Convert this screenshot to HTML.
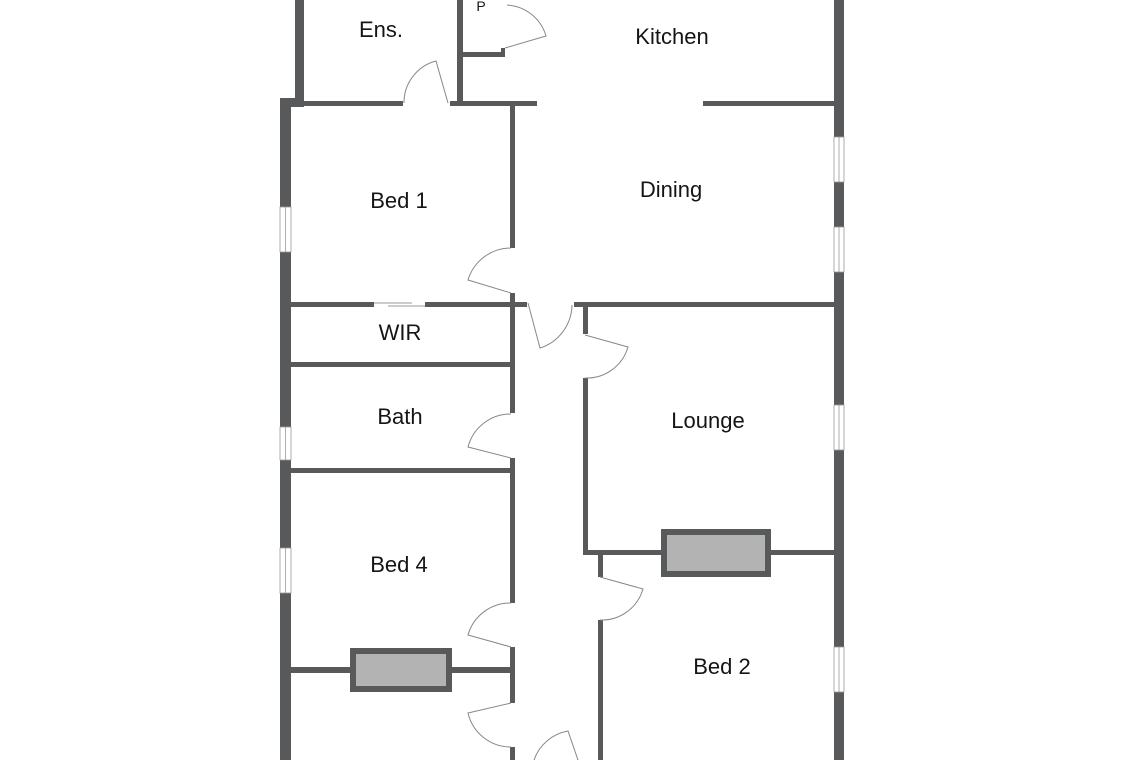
<!DOCTYPE html>
<html><head><meta charset="utf-8"><style>
html,body{margin:0;padding:0;background:#fff;}
svg{display:block;}
text{font-family:"Liberation Sans",Arial,sans-serif;font-size:22px;fill:#151515;text-anchor:middle;}
</style></head><body>
<svg width="1140" height="760" viewBox="0 0 1140 760" xmlns="http://www.w3.org/2000/svg">
<rect width="1140" height="760" fill="#fff"/>
<g fill="#58595b">
<rect x="295" y="0" width="9" height="106"/>
<rect x="280" y="98" width="24" height="9"/>
<rect x="280" y="98" width="11" height="662"/>
<rect x="834" y="0" width="10" height="760"/>
<rect x="457" y="0" width="6" height="106"/>
<rect x="457" y="52" width="48" height="5"/>
<rect x="501" y="48" width="4" height="9"/>
<rect x="291" y="101" width="112" height="5"/>
<rect x="450" y="101" width="87" height="5"/>
<rect x="703" y="101" width="131" height="5"/>
<rect x="510" y="106" width="5" height="142"/>
<rect x="510" y="293" width="5" height="14"/>
<rect x="291" y="302" width="83" height="5"/>
<rect x="425" y="302" width="102" height="5"/>
<rect x="574" y="302" width="260" height="5"/>
<rect x="291" y="362" width="220" height="5"/>
<rect x="291" y="468" width="220" height="5"/>
<rect x="510" y="307" width="5" height="106"/>
<rect x="510" y="458" width="5" height="145"/>
<rect x="510" y="647" width="5" height="56"/>
<rect x="510" y="747" width="5" height="13"/>
<rect x="291" y="667" width="220" height="6"/>
<rect x="583" y="307" width="5" height="27"/>
<rect x="583" y="378" width="5" height="177"/>
<rect x="583" y="550" width="251" height="5"/>
<rect x="598" y="555" width="5" height="22"/>
<rect x="598" y="620" width="5" height="140"/>
</g>
<rect x="664" y="532" width="104" height="42" fill="#b3b3b3" stroke="#58595b" stroke-width="6"/>
<rect x="353" y="651" width="96" height="38" fill="#b3b3b3" stroke="#58595b" stroke-width="6"/>
<g fill="#fff" stroke="#999" stroke-width="0.8">
<rect x="280" y="207" width="11" height="45"/><line x1="285.5" y1="207" x2="285.5" y2="252"/>
<rect x="280" y="427" width="11" height="33"/><line x1="285.5" y1="427" x2="285.5" y2="460"/>
<rect x="280" y="548" width="11" height="45"/><line x1="285.5" y1="548" x2="285.5" y2="593"/>
<rect x="834" y="137" width="10" height="45"/><line x1="839" y1="137" x2="839" y2="182"/>
<rect x="834" y="227" width="10" height="45"/><line x1="839" y1="227" x2="839" y2="272"/>
<rect x="834" y="405" width="10" height="45"/><line x1="839" y1="405" x2="839" y2="450"/>
<rect x="834" y="647" width="10" height="45"/><line x1="839" y1="647" x2="839" y2="692"/>
</g>
<g stroke="#999" stroke-width="1"><line x1="374" y1="303" x2="412" y2="303"/><line x1="388" y1="306" x2="425" y2="306"/></g>
<g fill="none" stroke="#888" stroke-width="1">
<path d="M505 48 L546 36 A43 43 0 0 0 507 5"/>
<path d="M448 103 L436 61 A43 43 0 0 0 404 103"/>
<path d="M511 293 L468 280 A45 45 0 0 1 511 248"/>
<path d="M528 303 L540 348 A46 46 0 0 0 572 305"/>
<path d="M585 335 L628 347 A43 43 0 0 1 585 378"/>
<path d="M511 458 L468 447 A44 44 0 0 1 511 414"/>
<path d="M511 647 L468 635 A44 44 0 0 1 511 603"/>
<path d="M511 703 L468 713 A44 44 0 0 0 511 747"/>
<path d="M600 577 L643 589 A43 43 0 0 1 600 620"/>
<path d="M578 760 L568 731 A44 44 0 0 0 534 760"/>
</g>
<text x="381" y="37">Ens.</text>
<text x="672" y="44">Kitchen</text>
<text x="399" y="208">Bed 1</text>
<text x="671" y="197">Dining</text>
<text x="400" y="340">WIR</text>
<text x="400" y="424">Bath</text>
<text x="708" y="428">Lounge</text>
<text x="399" y="572">Bed 4</text>
<text x="722" y="674">Bed 2</text>
<text x="481" y="11" style="font-size:14px">P</text>
</svg>
</body></html>
